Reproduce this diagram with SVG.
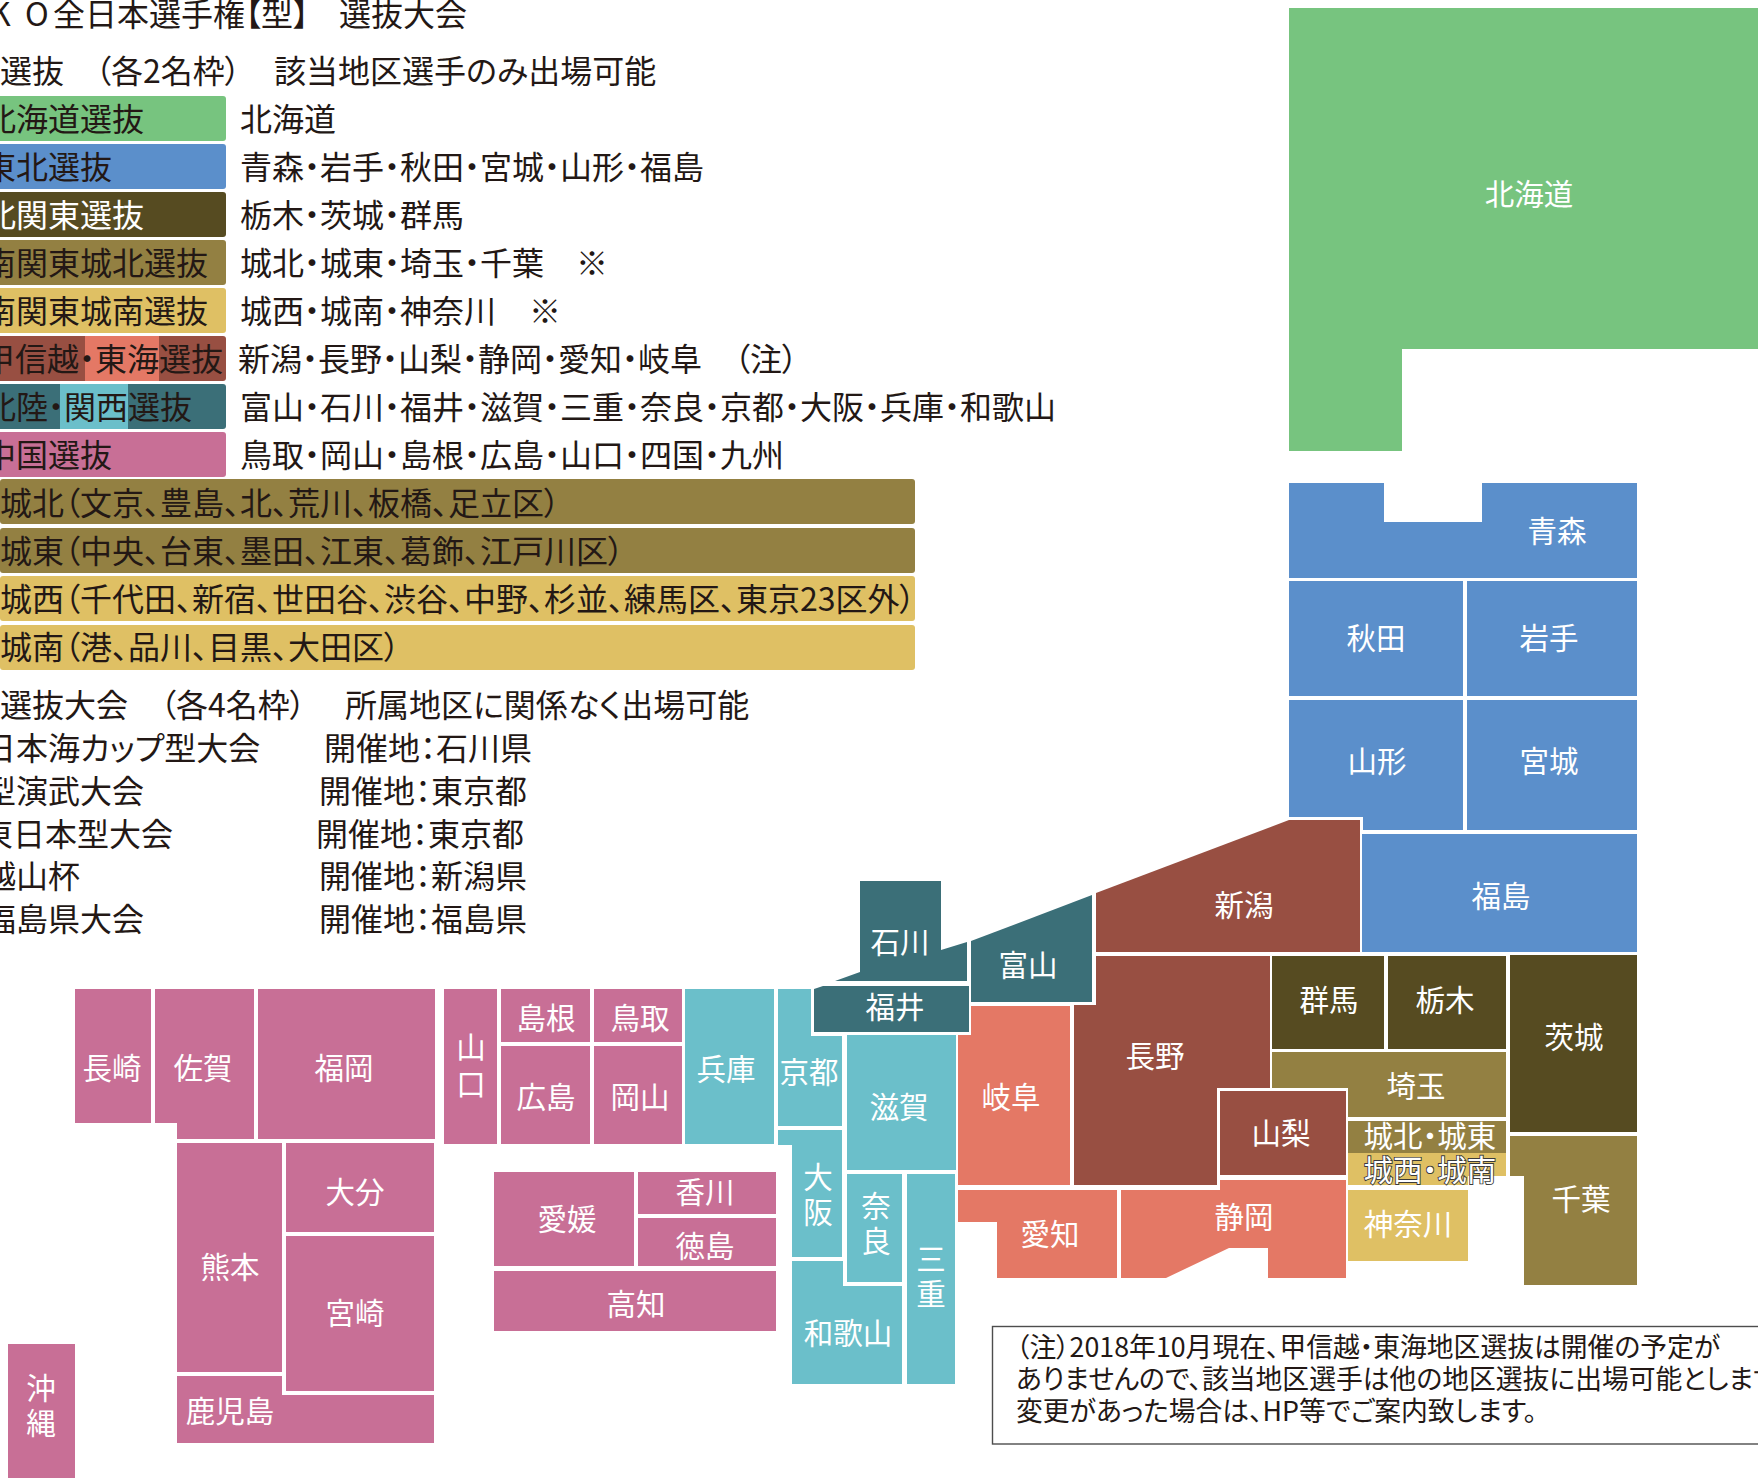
<svg xmlns="http://www.w3.org/2000/svg" width="1758" height="1478" viewBox="0 0 1758 1478">
<style>
text{font-family:"Noto Sans CJK JP","Noto Sans",sans-serif;font-feature-settings:"palt";}
.l{font-size:32px;fill:#231815;}
.w{fill:#fff;}
.n{font-size:26.8px;fill:#231815;}
.m{font-size:29.5px;fill:#fff;text-anchor:middle;}
.o{stroke:#3a3a3a;stroke-width:1.8px;paint-order:stroke;}
.hk{fill:#77C47F}.th{fill:#5B8FCB}.kk{fill:#564B21}.ol{fill:#938042}.gd{fill:#DFC064}.br{fill:#984F42}.sa{fill:#E47865}.te{fill:#3B6F78}.lt{fill:#6BBFCA}.pk{fill:#C86F96}
</style>
<g id="title">
<text class="l" y="26"><tspan x="-10">K</tspan><tspan x="25">O</tspan><tspan x="53">全日本選手権【型】</tspan><tspan x="339">選抜大会</tspan></text>
<text class="l" y="83"><tspan x="0">選抜</tspan><tspan x="95">（各2名枠）</tspan><tspan x="274">該当地区選手のみ出場可能</tspan></text>
</g>
<g id="legend">
<rect class="hk" x="-6" y="96" width="232" height="45" rx="3"/><text class="l" x="-16" y="131">北海道選抜</text><text class="l" x="240" y="131">北海道</text>
<rect class="th" x="-6" y="144" width="232" height="45" rx="3"/><text class="l" x="-16" y="179">東北選抜</text><text class="l" x="240" y="179">青森・岩手・秋田・宮城・山形・福島</text>
<rect class="kk" x="-6" y="192" width="232" height="45" rx="3"/><text class="l w" x="-16" y="227" style="fill:#fff">北関東選抜</text><text class="l" x="240" y="227">栃木・茨城・群馬</text>
<rect class="ol" x="-6" y="240" width="232" height="45" rx="3"/><text class="l" x="-16" y="275">南関東城北選抜</text><text class="l" y="275"><tspan x="240">城北・城東・埼玉・千葉</tspan><tspan x="576">※</tspan></text>
<rect class="gd" x="-6" y="288" width="232" height="45" rx="3"/><text class="l" x="-16" y="323">南関東城南選抜</text><text class="l" y="323"><tspan x="240">城西・城南・神奈川</tspan><tspan x="529">※</tspan></text>
<rect class="br" x="-6" y="336" width="232" height="45" rx="3"/><rect class="sa" x="85" y="336" width="74" height="45"/><text class="l" x="-17" y="371">甲信越・東海選抜</text><text class="l" y="371"><tspan x="238">新潟・長野・山梨・静岡・愛知・岐阜</tspan><tspan x="734">（注）</tspan></text>
<rect class="te" x="-6" y="384" width="232" height="45" rx="3"/><rect class="lt" x="60" y="384" width="68" height="45"/><text class="l" x="-16" y="419">北陸・関西選抜</text><text class="l" x="240" y="419">富山・石川・福井・滋賀・三重・奈良・京都・大阪・兵庫・和歌山</text>
<rect class="pk" x="-6" y="432" width="232" height="45" rx="3"/><text class="l" x="-16" y="467">中国選抜</text><text class="l" x="240" y="467">鳥取・岡山・島根・広島・山口・四国・九州</text>
<rect class="ol" x="0" y="479" width="915" height="45" rx="3"/><text class="l" x="0" y="515">城北（文京、豊島、北、荒川、板橋、足立区）</text>
<rect class="ol" x="0" y="528" width="915" height="45" rx="3"/><text class="l" x="0" y="563">城東（中央、台東、墨田、江東、葛飾、江戸川区）</text>
<rect class="gd" x="0" y="576" width="915" height="45" rx="3"/><text class="l" x="0" y="611">城西（千代田、新宿、世田谷、渋谷、中野、杉並、練馬区、東京23区外）</text>
<rect class="gd" x="0" y="625" width="915" height="45" rx="3"/><text class="l" x="0" y="659">城南（港、品川、目黒、大田区）</text>
</g>
<g id="tournaments">
<text class="l" y="717"><tspan x="0">選抜大会</tspan><tspan x="160">（各4名枠）</tspan><tspan x="345">所属地区に関係なく出場可能</tspan></text>
<text class="l" y="760"><tspan x="-16">日本海カップ型大会</tspan><tspan x="324">開催地：石川県</tspan></text>
<text class="l" y="803"><tspan x="-16">型演武大会</tspan><tspan x="319">開催地：東京都</tspan></text>
<text class="l" y="846"><tspan x="-19">東日本型大会</tspan><tspan x="316">開催地：東京都</tspan></text>
<text class="l" y="888"><tspan x="-16">越山杯</tspan><tspan x="319">開催地：新潟県</tspan></text>
<text class="l" y="931"><tspan x="-16">福島県大会</tspan><tspan x="319">開催地：福島県</tspan></text>
</g>
<g id="hokkaido"><polygon class="hk" points="1289,8 1758,8 1758,349 1402,349 1402,451 1289,451"/><text class="m" x="1529" y="205">北海道</text></g>
<g id="aomori"><polygon class="th" points="1289,483 1384,483 1384,522 1482,522 1482,483 1637,483 1637,578 1289,578"/><text class="m" x="1557" y="542">青森</text></g>
<g id="akita"><rect class="th" x="1289" y="581" width="174" height="115"/><text class="m" x="1376" y="649">秋田</text></g>
<g id="iwate"><rect class="th" x="1467" y="581" width="170" height="115"/><text class="m" x="1549" y="649">岩手</text></g>
<g id="yamagata"><polygon class="th" points="1289,700 1463,700 1463,830 1363,830 1363,817 1289,817"/><text class="m" x="1377" y="772">山形</text></g>
<g id="miyagi"><rect class="th" x="1467" y="700" width="170" height="130"/><text class="m" x="1549" y="772">宮城</text></g>
<g id="fukushima"><rect class="th" x="1362" y="834" width="275" height="118"/><text class="m" x="1501" y="907">福島</text></g>
<g id="niigata"><polygon class="br" points="1096,893 1289,820 1360,820 1360,952 1096,952"/><text class="m" x="1244" y="916">新潟</text></g>
<g id="gunma"><rect class="kk" x="1272" y="956" width="112" height="93"/><text class="m" x="1329" y="1011">群馬</text></g>
<g id="tochigi"><rect class="kk" x="1388" y="956" width="118" height="93"/><text class="m" x="1445" y="1011">栃木</text></g>
<g id="ibaraki"><rect class="kk" x="1510" y="955" width="127" height="177"/><text class="m" x="1574" y="1048">茨城</text></g>
<g id="saitama"><polygon class="ol" points="1272,1052 1506,1052 1506,1117 1348,1117 1348,1088 1272,1088"/><text class="m" x="1416" y="1097">埼玉</text></g>
<g id="tokyo"><rect class="ol" x="1348" y="1121" width="158" height="32"/><polygon class="gd" points="1348,1153 1506,1153 1506,1176 1468,1176 1468,1185 1348,1185"/><text class="m" x="1430" y="1147">城北・城東</text><text class="m o" x="1430" y="1181">城西・城南</text></g>
<g id="kanagawa"><rect class="gd" x="1348" y="1190" width="120" height="71"/><text class="m" x="1408" y="1235">神奈川</text></g>
<g id="chiba"><polygon class="ol" points="1510,1136 1637,1136 1637,1285 1524,1285 1524,1176 1510,1176"/><text class="m" x="1581" y="1210">千葉</text></g>
<g id="nagano"><polygon class="br" points="1096,956 1270,956 1270,1088 1217,1088 1217,1185 1074,1185 1074,1005 1096,1005"/><text class="m" x="1155" y="1067">長野</text></g>
<g id="yamanashi"><rect class="br" x="1220" y="1091" width="126" height="84"/><text class="m" x="1281" y="1144">山梨</text></g>
<g id="shizuoka"><polygon class="sa" points="1121,1190 1220,1190 1220,1180 1346,1180 1346,1278 1268,1278 1268,1248 1229,1248 1166,1278 1121,1278"/><text class="m" x="1244" y="1228">静岡</text></g>
<g id="aichi"><polygon class="sa" points="958,1190 1117,1190 1117,1278 997,1278 997,1222 958,1222"/><text class="m" x="1050" y="1245">愛知</text></g>
<g id="gifu"><polygon class="sa" points="971,1006 1070,1006 1070,1185 958,1185 958,1035 971,1035"/><text class="m" x="1011" y="1108">岐阜</text></g>
<g id="toyama"><polygon class="te" points="971,941 1092,895 1092,1002 971,1002"/><text class="m" x="1028" y="976">富山</text></g>
<g id="ishikawa"><polygon class="te" points="860,881 941,881 941,950 967,942 967,981 835,981 860,972"/><text class="m" x="900" y="953">石川</text></g>
<g id="fukui"><polygon class="te" points="814,989 823,986 969,986 969,1032 814,1032"/><text class="m" x="895" y="1018">福井</text></g>
<g id="kyoto"><polygon class="lt" points="778,989 811,989 811,1036 842,1036 842,1126 778,1126"/><text class="m" x="809" y="1083">京都</text></g>
<g id="shiga"><rect class="lt" x="847" y="1035" width="109" height="135"/><text class="m" x="899" y="1118">滋賀</text></g>
<g id="osaka"><polygon class="lt" points="778,1130 842,1130 842,1257 792,1257 792,1145 778,1145"/><text class="m" x="818" y="1188">大</text><text class="m" x="818" y="1223">阪</text></g>
<g id="hyogo"><rect class="lt" x="685" y="989" width="89" height="155"/><text class="m" x="726" y="1080">兵庫</text></g>
<g id="nara"><rect class="lt" x="847" y="1174" width="55" height="108"/><text class="m" x="876" y="1217">奈</text><text class="m" x="876" y="1252">良</text></g>
<g id="mie"><rect class="lt" x="907" y="1174" width="48" height="210"/><text class="m" x="931" y="1270">三</text><text class="m" x="931" y="1305">重</text></g>
<g id="wakayama"><polygon class="lt" points="792,1261 843,1261 843,1286 902,1286 902,1384 792,1384"/><text class="m" x="848" y="1344">和歌山</text></g>
<g id="yamaguchi"><rect class="pk" x="444" y="989" width="53" height="155"/><text class="m" x="471" y="1058">山</text><text class="m" x="471" y="1095">口</text></g>
<g id="shimane"><rect class="pk" x="501" y="989" width="89" height="53"/><text class="m" x="546" y="1029">島根</text></g>
<g id="tottori"><rect class="pk" x="594" y="989" width="88" height="53"/><text class="m" x="640" y="1029">鳥取</text></g>
<g id="hiroshima"><rect class="pk" x="501" y="1046" width="89" height="98"/><text class="m" x="546" y="1108">広島</text></g>
<g id="okayama"><rect class="pk" x="594" y="1046" width="88" height="98"/><text class="m" x="640" y="1108">岡山</text></g>
<g id="nagasaki"><rect class="pk" x="75" y="989" width="76" height="134"/><text class="m" x="112" y="1079">長崎</text></g>
<g id="saga"><polygon class="pk" points="155,989 254,989 254,1139 177,1139 177,1123 155,1123"/><text class="m" x="203" y="1079">佐賀</text></g>
<g id="fukuoka"><rect class="pk" x="258" y="989" width="177" height="150"/><text class="m" x="344" y="1079">福岡</text></g>
<g id="kumamoto"><rect class="pk" x="177" y="1143" width="105" height="229"/><text class="m" x="230" y="1278">熊本</text></g>
<g id="oita"><rect class="pk" x="286" y="1143" width="148" height="89"/><text class="m" x="355" y="1203">大分</text></g>
<g id="miyazaki"><rect class="pk" x="286" y="1236" width="148" height="155"/><text class="m" x="355" y="1324">宮崎</text></g>
<g id="kagoshima"><polygon class="pk" points="177,1376 282,1376 282,1395 434,1395 434,1443 177,1443"/><text class="m" x="230" y="1422">鹿児島</text></g>
<g id="okinawa"><rect class="pk" x="8" y="1344" width="67" height="134"/><text class="m" x="41" y="1399">沖</text><text class="m" x="41" y="1434">縄</text></g>
<g id="ehime"><rect class="pk" x="494" y="1172" width="140" height="94"/><text class="m" x="567" y="1230">愛媛</text></g>
<g id="kagawa"><rect class="pk" x="638" y="1172" width="138" height="42"/><text class="m" x="705" y="1203">香川</text></g>
<g id="tokushima"><rect class="pk" x="638" y="1218" width="138" height="48"/><text class="m" x="705" y="1257">徳島</text></g>
<g id="kochi"><rect class="pk" x="494" y="1271" width="282" height="60"/><text class="m" x="636" y="1315">高知</text></g>
<g id="note">
<rect x="992.5" y="1326.5" width="800" height="117.5" fill="#fff" stroke="#4d4d4d" stroke-width="1.4"/>
<text class="n" x="1016" y="1357">（注）2018年10月現在、甲信越・東海地区選抜は開催の予定が</text>
<text class="n" x="1016" y="1389">ありませんので、該当地区選手は他の地区選抜に出場可能とします</text>
<text class="n" x="1016" y="1421">変更があった場合は、HP等でご案内致します。</text>
</g>
</svg>
